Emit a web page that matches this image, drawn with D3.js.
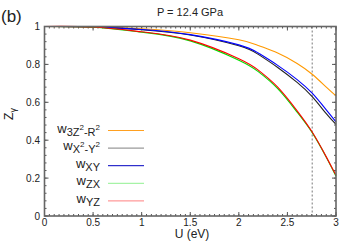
<!DOCTYPE html>
<html>
<head>
<meta charset="utf-8">
<style>
  body { margin: 0; background: #fff; }
  svg { display: block; font-family: 'Liberation Sans', Arial, sans-serif; }
</style>
</head>
<body>
<svg width="349" height="244"></svg>
<script src="https://cdn.jsdelivr.net/npm/d3@7"></script>
<script>
// values
let uVals = [0, 0.5, 1.0, 1.5, 2.0, 2.2, 2.4, 2.6, 2.755, 2.9, 3.0];
let z3z2r2 = [1, 0.998, 0.988, 0.967, 0.93, 0.90, 0.86, 0.805, 0.748, 0.68, 0.634];
let zx2y2 = [1, 0.998, 0.983, 0.955, 0.898, 0.853, 0.784, 0.705, 0.630, 0.54, 0.483];
let zxy = [1, 0.998, 0.984, 0.957, 0.903, 0.860, 0.795, 0.72, 0.648, 0.56, 0.497];
let zzx = [1, 0.996, 0.970, 0.924, 0.822, 0.762, 0.672, 0.548, 0.440, 0.31, 0.21];
let zyz = [1, 0.997, 0.972, 0.928, 0.830, 0.770, 0.680, 0.555, 0.443, 0.312, 0.215];
let uDash = 2.755;

let seriesVals = [z3z2r2, zx2y2, zxy, zzx, zyz];
let seriesColors = ["#ff9900", "#222222", "#0000ff", "#00e000", "#ff0000"];
let legendColors = ["#ffa020", "#808080", "#0000c0", "#90f090", "#ff8080"];

let xTicks = [0, 0.5, 1, 1.5, 2, 2.5, 3];
let yTicks = [0, 0.2, 0.4, 0.6, 0.8, 1];

let svg = d3.select("svg");
let x = d3.scaleLinear().domain([0, 3]).range([44.5, 336]);
let y = d3.scaleLinear().domain([0, 1]).range([216, 26.5]);

// minor ticks
let g = svg.append("g");
let xMinor = d3.range(0, 3.0001, 0.05);
let yMinor = d3.range(0, 1.0001, 0.04);
g.selectAll(".xm").data(xMinor).enter().append("line")
  .attr("x1", d => x(d)).attr("x2", d => x(d))
  .attr("y1", y(0)).attr("y2", y(0) - 2)
  .attr("stroke", "#555").attr("stroke-width", 1);
g.selectAll(".xmt").data(xMinor).enter().append("line")
  .attr("x1", d => x(d)).attr("x2", d => x(d))
  .attr("y1", y(1)).attr("y2", y(1) + 2)
  .attr("stroke", "#555").attr("stroke-width", 1);
g.selectAll(".ym").data(yMinor).enter().append("line")
  .attr("x1", x(0)).attr("x2", x(0) + 2)
  .attr("y1", d => y(d)).attr("y2", d => y(d))
  .attr("stroke", "#555").attr("stroke-width", 1);
g.selectAll(".ymr").data(yMinor).enter().append("line")
  .attr("x1", x(3)).attr("x2", x(3) - 2)
  .attr("y1", d => y(d)).attr("y2", d => y(d))
  .attr("stroke", "#555").attr("stroke-width", 1);

// major ticks
g.selectAll(".xM").data(xTicks).enter().append("line")
  .attr("x1", d => x(d)).attr("x2", d => x(d))
  .attr("y1", y(0)).attr("y2", y(0) - 4)
  .attr("stroke", "#555");
g.selectAll(".xMt").data(xTicks).enter().append("line")
  .attr("x1", d => x(d)).attr("x2", d => x(d))
  .attr("y1", y(1)).attr("y2", y(1) + 4)
  .attr("stroke", "#555");
g.selectAll(".yM").data(yTicks).enter().append("line")
  .attr("x1", x(0)).attr("x2", x(0) + 4)
  .attr("y1", d => y(d)).attr("y2", d => y(d))
  .attr("stroke", "#555");
g.selectAll(".yMr").data(yTicks).enter().append("line")
  .attr("x1", x(3)).attr("x2", x(3) - 4)
  .attr("y1", d => y(d)).attr("y2", d => y(d))
  .attr("stroke", "#555");

// tick labels
svg.selectAll(".xl").data(xTicks).enter().append("text")
  .attr("x", d => x(d)).attr("y", 226)
  .attr("text-anchor", "middle").attr("font-size", 10).attr("fill", "#222")
  .text(d => d3.format("")(d));
svg.selectAll(".yl").data(yTicks).enter().append("text")
  .attr("x", 40).attr("y", d => y(d) + 3.5)
  .attr("text-anchor", "end").attr("font-size", 10).attr("fill", "#222")
  .text(d => d3.format("")(d));

// dashed line
svg.append("line")
  .attr("x1", x(uDash)).attr("x2", x(uDash))
  .attr("y1", y(1)).attr("y2", y(0))
  .attr("stroke", "#555").attr("stroke-width", 0.8)
  .attr("stroke-dasharray", "2,2");

// curves
let line = d3.line().curve(d3.curveNatural)
  .x((d, i) => x(uVals[i])).y(d => y(d));
seriesVals.forEach((vals, k) => {
  svg.append("path").datum(vals)
    .attr("d", line)
    .attr("fill", "none")
    .attr("stroke", seriesColors[k])
    .attr("stroke-width", 1.1);
});

// frame
svg.append("rect")
  .attr("x", x(0)).attr("y", y(1))
  .attr("width", x(3) - x(0)).attr("height", y(0) - y(1))
  .attr("fill", "none").attr("stroke", "#666").attr("stroke-width", 1.6);

// legend
let subs = [["3Z", "2", "-R", "2"], ["X", "2", "-Y", "2"], ["XY"], ["ZX"], ["YZ"]];
let leg = svg.append("g");
subs.forEach((s, k) => {
  let yy = 130.5 + k * 17.6;
  let t = leg.append("text").attr("x", 100).attr("y", yy + 2)
    .attr("text-anchor", "end").attr("font-size", 13).attr("fill", "#222");
  t.append("tspan").text("w");
  t.append("tspan").attr("font-size", 11).attr("dy", 3).text(s[0]);
  if (s.length > 1) {
    t.append("tspan").attr("font-size", 8).attr("dy", -6).text(s[1]);
    t.append("tspan").attr("font-size", 11).attr("dy", 6).text(s[2]);
    t.append("tspan").attr("font-size", 8).attr("dy", -6).text(s[3]);
  }
  leg.append("line")
    .attr("x1", 108).attr("x2", 144)
    .attr("y1", yy).attr("y2", yy)
    .attr("stroke", legendColors[k]).attr("stroke-width", 1);
});

// titles
svg.append("text").attr("x", 190).attr("y", 16)
  .attr("text-anchor", "middle").attr("font-size", 11).attr("fill", "#222")
  .text("P = 12.4 GPa");
svg.append("text").attr("x", 1).attr("y", 22)
  .attr("font-size", 17).attr("fill", "#222")
  .text("(b)");
svg.append("text").attr("x", 192).attr("y", 237.5)
  .attr("text-anchor", "middle").attr("font-size", 12).attr("fill", "#222")
  .text("U (eV)");
let yl = svg.append("text")
  .attr("transform", "translate(13,114) rotate(-90)")
  .attr("text-anchor", "middle").attr("font-size", 12).attr("fill", "#222");
yl.append("tspan").text("Z");
yl.append("tspan").attr("font-size", 9).attr("dy", 3).text("γ");
</script>
</body>
</html>
